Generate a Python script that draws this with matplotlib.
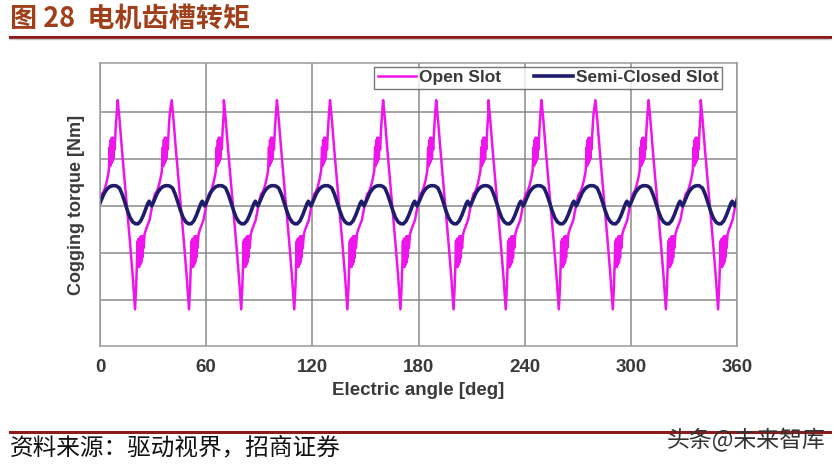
import numpy as np
import matplotlib.pyplot as plt
from matplotlib.lines import Line2D

plt.rcParams['font.family'] = ['Liberation Sans', 'DejaVu Sans']
CJK = ['Noto Sans CJK SC', 'DejaVu Sans']

# ---- data ----------------------------------------------------------------
# one slot pitch (30 deg) of each curve, phase measured from its peak
open_phase = [0.0, 1.0, 2.5, 4.0, 5.5, 7.0, 8.5, 9.8, 10.4, 10.9,
              11.2, 11.5, 11.8, 12.1, 12.4, 12.7, 13.0, 13.3, 13.6, 13.9, 14.2, 14.6,
              15.2, 16.0, 17.0, 18.0, 19.0, 20.0, 21.0, 22.0, 23.0, 24.0, 25.0,
              25.5, 25.8, 26.1, 26.4, 26.7, 27.0, 27.3, 27.6, 27.9, 28.3,
              28.8, 29.4]
open_torque = [2.25, 1.85, 1.15, 0.5, -0.15, -0.8, -1.5, -2.2, -1.75, -1.2,
               -0.75, -1.3, -0.7, -1.3, -0.7, -1.25, -0.65, -1.2, -0.65, -1.1, -0.65, -0.9,
               -0.6, -0.5, -0.4, -0.3, -0.1, 0.1, 0.25, 0.3, 0.4, 0.55, 0.75,
               1.25, 0.85, 1.4, 0.9, 1.45, 0.95, 1.45, 1.0, 1.4, 1.2,
               1.6, 1.95]
open_peaks = [-20, 10, 40.5, 70, 100, 130, 160, 190, 219.5, 249.5, 280, 310, 339.5]

semi_phase = [0.0, 1.5, 3.0, 4.5, 6.0, 7.5, 9.0, 10.5, 12.0, 13.5, 15.0, 16.5,
              17.5, 18.3, 19.0, 19.7, 20.4, 21.5, 23.0, 24.5, 26.0, 27.5, 29.0]
semi_torque = [0.42, 0.38, 0.25, 0.08, -0.1, -0.25, -0.34, -0.38, -0.38, -0.32, -0.2, -0.05,
               0.05, 0.1, 0.05, 0.0, 0.05, 0.15, 0.28, 0.36, 0.41, 0.43, 0.43]
semi_peaks = [-20.5, 9.5, 39.5, 69.5, 99.5, 129.5, 159.5, 189.5, 219.5, 249.5, 279.5, 309.5, 339]

xticks = [0, 60, 120, 180, 240, 300, 360]


def build(phase, torque, peaks):
    xs, ys = [], []
    for p in peaks:
        xs.extend(np.asarray(phase) + p)
        ys.extend(torque)
    return np.array(xs), np.array(ys)


x_open, y_open = build(open_phase, open_torque, open_peaks)
x_semi, y_semi = build(semi_phase, semi_torque, semi_peaks)

fig = plt.figure(figsize=(8.34, 4.65), dpi=100)
ax = fig.add_axes([100 / 834, 1 - 346 / 465, 637 / 834, 283 / 465])

ax.plot(x_open, y_open, color='#F014EC', lw=1.8, label='Open Slot')
ax.plot(x_semi, y_semi, color='#1F1D6B', lw=2.6, label='Semi-Closed Slot')

ax.set_xlim(0, 360)
ax.set_ylim(-2.98, 3.04)
ax.set_xticks(xticks)
ax.set_xticklabels([str(t) for t in xticks], fontsize=13.5, fontweight='bold', color='#3a3a3a')
ax.set_yticks([-2, -1, 0, 1, 2])
ax.set_yticklabels([])
ax.tick_params(axis='both', length=0, pad=9)
ax.grid(True, color='#8a8a8a', lw=1.1)
ax.set_axisbelow(True)
for s in ax.spines.values():
    s.set_color('#9a9a9a')
    s.set_linewidth(1.1)

ax.set_xlabel('Electric angle [deg]', fontsize=13.5, fontweight='bold', color='#3a3a3a', labelpad=5)
ax.set_ylabel('Cogging torque [Nm]', fontsize=13, fontweight='bold', color='#3a3a3a', labelpad=2)

leg = ax.legend(loc='upper right', bbox_to_anchor=(0.977, 0.987), ncol=2, fontsize=12.5,
                frameon=True, fancybox=False, handlelength=2.2, handletextpad=0.2,
                columnspacing=1.9, borderpad=0.2, borderaxespad=0)
leg.get_frame().set_edgecolor('#555555')
leg.get_frame().set_linewidth(1.0)
for t in leg.get_texts():
    t.set_fontweight('bold')
    t.set_color('#3a3a3a')

# header / footer
fig.text(10 / 834, 1 - 19 / 465, '图 28  电机齿槽转矩', fontsize=19.5, fontweight='bold',
         color='#A0401A', family=CJK, va='center', ha='left')
fig.add_artist(Line2D([10 / 834, 830 / 834], [1 - 37 / 465] * 2, color='#8E1B1B', lw=2.2))
fig.add_artist(Line2D([10 / 834, 830 / 834], [1 - 39.5 / 465] * 2, color='#c8c8c8', lw=1))
fig.add_artist(Line2D([10 / 834, 830 / 834], [1 - 432 / 465] * 2, color='#8E1B1B', lw=2.2))
fig.text(10 / 834, 1 - 448 / 465, '资料来源：驱动视界，招商证券', fontsize=17,
         color='#111111', family=CJK, va='center', ha='left')
fig.text(826 / 834, 1 - 440 / 465, '头条@未来智库', fontsize=16.5,
         color='#333333', family=CJK, va='center', ha='right')

fig.savefig('out.png', dpi=100)
